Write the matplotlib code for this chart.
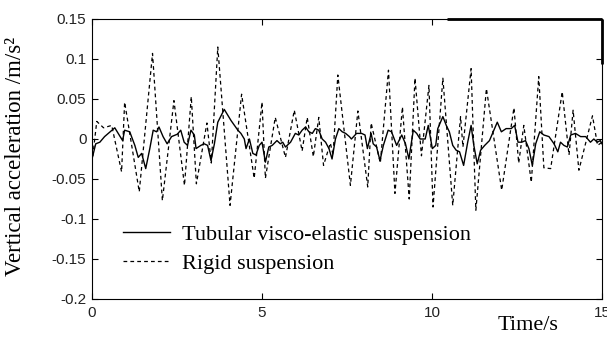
import matplotlib
matplotlib.use("Agg")
import matplotlib.pyplot as plt

# ---- data ----
t_tub = [0.00, 0.11, 0.23, 0.37, 0.67, 0.77, 0.90, 0.96, 1.11, 1.26, 1.36, 1.46, 1.58, 1.70, 1.80, 1.90,
         1.97, 2.09, 2.21, 2.34, 2.51, 2.61, 2.71, 2.81, 2.91, 3.01, 3.06, 3.20, 3.30, 3.40, 3.50, 3.60,
         3.70, 3.89, 4.09, 4.29, 4.38, 4.48, 4.53, 4.63, 4.73, 4.82, 4.92, 5.00, 5.10, 5.20, 5.30, 5.44,
         5.54, 5.61, 5.69, 5.84, 5.98, 6.08, 6.18, 6.28, 6.38, 6.48, 6.57, 6.67, 6.77, 6.87, 6.97, 7.06,
         7.16, 7.26, 7.36, 7.46, 7.57, 7.63, 7.78, 7.93, 8.03, 8.10, 8.21, 8.27, 8.37, 8.47, 8.57, 8.71,
         8.81, 8.96, 9.11, 9.22, 9.32, 9.45, 9.55, 9.65, 9.80, 9.89, 10.01, 10.11, 10.17, 10.32, 10.42,
         10.51, 10.61, 10.71, 10.81, 10.93, 11.05, 11.15, 11.23, 11.33, 11.43, 11.55, 11.69, 11.84, 11.92,
         12.04, 12.18, 12.33, 12.43, 12.53, 12.64, 12.75, 12.85, 12.95, 13.05, 13.17, 13.29, 13.44, 13.59,
         13.70, 13.78, 13.88, 13.98, 14.08, 14.22, 14.37, 14.52, 14.66, 14.76, 14.86, 14.95, 15.00]
a_tub = [-0.025, -0.006, -0.004, 0.003, 0.014, 0.007, -0.002, 0.011, 0.009, -0.008, -0.023, -0.018, -0.037,
         -0.012, 0.011, 0.009, 0.015, 0.003, -0.006, 0.003, 0.006, 0.011, -0.004, -0.008, 0.011, 0.005,
         -0.012, -0.008, -0.006, -0.008, -0.027, -0.006, 0.021, 0.037, 0.023, 0.011, 0.007, 0.000, -0.012,
         0.000, -0.018, -0.020, -0.008, -0.004, -0.029, -0.010, -0.008, -0.002, -0.006, -0.004, -0.010,
         -0.004, 0.007, 0.005, 0.011, 0.015, 0.009, 0.007, 0.013, 0.011, 0.000, -0.004, -0.012, -0.025,
         0.000, 0.013, 0.009, 0.007, 0.003, 0.000, 0.007, 0.007, 0.005, -0.012, 0.007, -0.006, -0.010,
         -0.027, -0.008, 0.011, 0.009, -0.008, 0.005, -0.006, -0.025, 0.011, 0.007, 0.000, 0.000, 0.017,
         -0.012, -0.008, 0.013, 0.028, 0.017, 0.009, -0.008, -0.014, -0.016, -0.033, -0.004, 0.017,
         -0.008, -0.031, -0.014, -0.008, -0.002, 0.013, 0.021, 0.009, 0.013, 0.013, 0.017, -0.004, -0.004,
         -0.002, -0.012, -0.033, -0.006, 0.009, 0.005, 0.003, -0.006, -0.016, -0.004, -0.008, -0.010,
         0.005, 0.007, 0.003, 0.003, -0.004, 0.000, -0.004, -0.002, -0.006]

t_rig = [0.00, 0.14, 0.34, 0.58, 0.87, 0.96, 1.39, 1.78, 2.07, 2.41, 2.72, 2.92, 3.07, 3.38, 3.51, 3.70,
         4.06, 4.40, 4.77, 5.00, 5.10, 5.39, 5.69, 5.95, 6.18, 6.33, 6.51, 6.67, 6.81, 7.01, 7.09, 7.23,
         7.60, 7.82, 8.11, 8.21, 8.48, 8.72, 8.91, 9.13, 9.33, 9.50, 9.69, 9.91, 10.03, 10.32, 10.61,
         10.84, 10.91, 11.15, 11.29, 11.60, 12.05, 12.41, 12.55, 12.70, 12.92, 13.14, 13.29, 13.49, 13.83,
         14.03, 14.15, 14.32, 14.72, 14.87, 15.00]
a_rig = [-0.030, 0.022, 0.014, 0.017, -0.041, 0.046, -0.066, 0.107, -0.077, 0.048, -0.058, 0.053, -0.056,
         0.020, -0.030, 0.115, -0.083, 0.056, -0.049, 0.046, -0.049, 0.027, -0.023, 0.036, -0.015, 0.027,
         -0.022, 0.027, -0.033, -0.005, -0.020, 0.080, -0.058, 0.035, -0.060, 0.020, -0.030, 0.086, -0.068,
         0.040, -0.075, 0.076, -0.021, 0.067, -0.085, 0.076, -0.083, 0.028, -0.010, 0.088, -0.089, 0.063,
         -0.064, 0.039, -0.030, 0.017, -0.054, 0.078, -0.036, -0.037, 0.059, -0.020, 0.036, -0.039, 0.029,
         -0.008, -0.004]

x_ticks = [0, 5, 10, 15]
y_ticks = [-0.2, -0.15, -0.1, -0.05, 0, 0.05, 0.1, 0.15]
y_tick_labels = ["-0.2", "-0.15", "-0.1", "-0.05", "0", "0.05", "0.1", "0.15"]
labels = ["Tubular visco-elastic suspension", "Rigid suspension"]

# ---- figure ----
W, H = 607, 342
fig = plt.figure(figsize=(W / 100, H / 100), dpi=100)
ax = fig.add_axes([92 / W, 1 - 299 / H, (602 - 92) / W, (299 - 19) / H])

ax.plot(t_tub, a_tub, color="black", lw=1.0, label=labels[0])
ax.plot(t_rig, a_rig, color="black", lw=0.9, linestyle=(0, (3, 2.5)), label=labels[1])

ax.set_xlim(0, 15)
ax.set_ylim(-0.2, 0.15)
ax.set_xticks(x_ticks)
ax.set_xticklabels([str(v) for v in x_ticks])
ax.set_yticks(y_ticks)
ax.set_yticklabels(y_tick_labels)

sans = ["Liberation Sans", "DejaVu Sans"]
serif = ["Liberation Serif", "DejaVu Serif"]
ax.tick_params(direction="in", length=4, width=0.8, top=True, right=True,
               labelsize=11, colors="black")
ax.tick_params(axis="x", pad=5)
ax.tick_params(axis="y", pad=4)
for lab in ax.get_xticklabels() + ax.get_yticklabels():
    lab.set_family(sans)
    lab.set_color("#222222")
for s in ax.spines.values():
    s.set_linewidth(0.8)
    s.set_color("black")

# heavy frame fragment at top-right (as in the reference scan)
ax.plot([0.697, 1.0], [1.0, 1.0], transform=ax.transAxes, color="black", lw=2.0,
        clip_on=False, solid_capstyle="butt")
ax.plot([1.0, 1.0], [1.0, 0.84], transform=ax.transAxes, color="black", lw=2.0,
        clip_on=False, solid_capstyle="butt")

fig.text(16 / W, 1 - 156 / H, "Vertical acceleration /m/s²", rotation=90,
         ha="center", va="center", fontsize=16.5, family=serif)
fig.text(528 / W, 1 - 326 / H, "Time/s", ha="center", va="center",
         fontsize=16, family=serif)

leg = ax.legend(loc="lower left", bbox_to_anchor=((123 - 92) / (602 - 92), (299 - 274) / 280),
                frameon=False, borderpad=0, borderaxespad=0, handlelength=2.1,
                handletextpad=0.54, labelspacing=0.38, prop={"family": serif, "size": 16})

fig.savefig("out.png", dpi=100)
